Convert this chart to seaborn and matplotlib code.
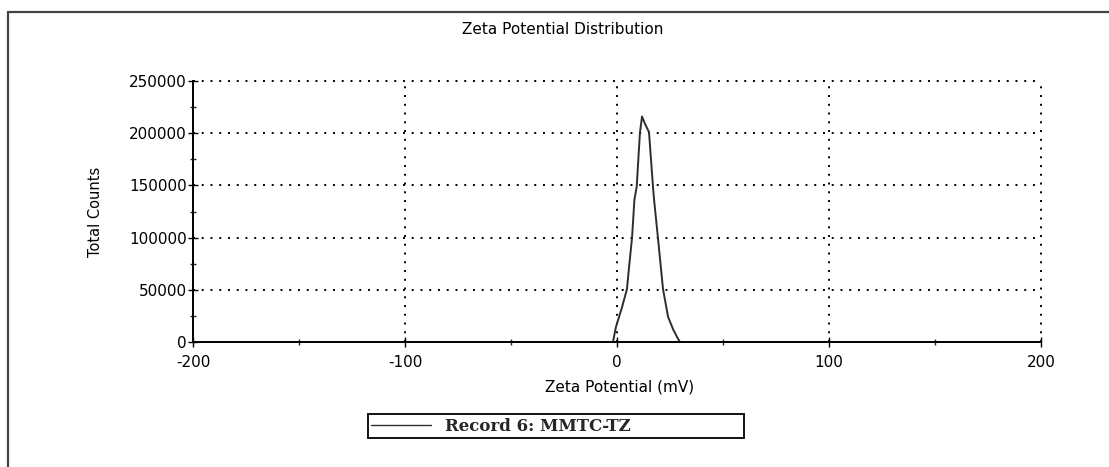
#!/usr/bin/env python3

import numpy as np
import pandas as pd
import matplotlib
matplotlib.use("Agg")
import matplotlib.pyplot as plt
from matplotlib.lines import Line2D
from matplotlib.ticker import MultipleLocator
import seaborn as sns

# Zeta potential distribution
zeta_mv = [-1.9, -0.5, 2.4, 4.7, 5.7, 7.1, 8.2, 9.3, 10.8, 11.8,
           13.2, 15.1, 17.0, 17.5, 19.3, 21.7, 24.1, 26.5, 28.3, 29.7]
total_counts = [0, 14400, 33500, 50700, 72000, 100000, 136000, 149000, 200000, 216000,
                209000, 201000, 148000, 136000, 100000, 50700, 24000, 12000, 4800, 0]

x_ticks = [-200, -100, 0, 100, 200]
y_ticks = [0, 50000, 100000, 150000, 200000, 250000]
record_label = "Record 6: MMTC-TZ"

if __name__ == "__main__":

    sns.set_style("ticks")
    plt.rcParams["font.family"] = ["DejaVu Sans"]
    plt.rcParams["axes.unicode_minus"] = False

    df = pd.DataFrame({"Zeta Potential (mV)": zeta_mv, "Total Counts": total_counts})

    W, H = 1109, 467
    fig = plt.figure(figsize=(W / 100, H / 100), dpi=100)
    ax = fig.add_axes([193 / W, 1 - 342 / H, (1041 - 193) / W, (342 - 81) / H])

    sns.lineplot(data=df, x="Zeta Potential (mV)", y="Total Counts", ax=ax,
                 color="#2e2e2e", linewidth=1.4, label=record_label)

    ax.set_xlim(-200, 200)
    ax.set_ylim(0, 250000)
    ax.set_xticks(x_ticks)
    ax.set_yticks(y_ticks)
    ax.xaxis.set_minor_locator(MultipleLocator(50))
    ax.yaxis.set_minor_locator(MultipleLocator(25000))

    # dotted grid; the outer grid lines stand in for the top and right frame
    dots = (0, (1, 3.5))
    ax.grid(True, which="major", color="black", linestyle=dots, linewidth=1.4)
    for gl in ax.get_xgridlines() + ax.get_ygridlines():
        gl.set_clip_on(False)
    for side in ["top", "right"]:
        ax.spines[side].set_visible(False)
    for side in ["left", "bottom"]:
        ax.spines[side].set_color("black")
        ax.spines[side].set_linewidth(1.4)

    ax.tick_params(axis="both", which="major", direction="inout", length=7, width=1,
                   labelsize=11, colors="black")
    ax.tick_params(axis="both", which="minor", direction="inout", length=5, width=1)
    ax.tick_params(axis="y", which="major", pad=1)
    ax.tick_params(axis="x", which="major", pad=6)

    ax.set_xlabel("Zeta Potential (mV)", fontsize=11, color="black")
    ax.set_ylabel("Total Counts", fontsize=10.5, color="black")
    ax.xaxis.set_label_coords((620 - 193) / 848, (342 - 387) / 261)
    ax.xaxis.label.set_va("center")
    ax.yaxis.set_label_coords((95 - 193) / 848, 0.5)
    ax.yaxis.label.set_va("center")

    fig.text(563 / W, 1 - 30 / H, "Zeta Potential Distribution", ha="center", va="center",
             fontsize=11, color="black")

    # legend box under the axis
    leg = ax.legend(loc="lower left", mode="expand", ncol=1,
                    bbox_to_anchor=(368 / W, 1 - 438 / H, (744 - 368) / W, (438 - 414) / H),
                    bbox_transform=fig.transFigure, frameon=True, fancybox=False,
                    borderpad=0.2, borderaxespad=0, handlelength=3.6, handletextpad=0.8,
                    prop={"family": "DejaVu Serif", "weight": "bold", "size": 12})
    leg.get_frame().set_edgecolor("black")
    leg.get_frame().set_linewidth(1.3)
    leg.get_frame().set_alpha(1)
    for h in leg.get_lines():
        h.set_linewidth(1.0)

    # scanned page border (left and top)
    fig.add_artist(Line2D([8 / W, 8 / W], [0, 1 - 12 / H], transform=fig.transFigure,
                          color="#444444", linewidth=1.6))
    fig.add_artist(Line2D([8 / W, 1], [1 - 12 / H, 1 - 12 / H], transform=fig.transFigure,
                          color="#444444", linewidth=1.6))

    fig.savefig("out.png", dpi=100)
    plt.close(fig)
